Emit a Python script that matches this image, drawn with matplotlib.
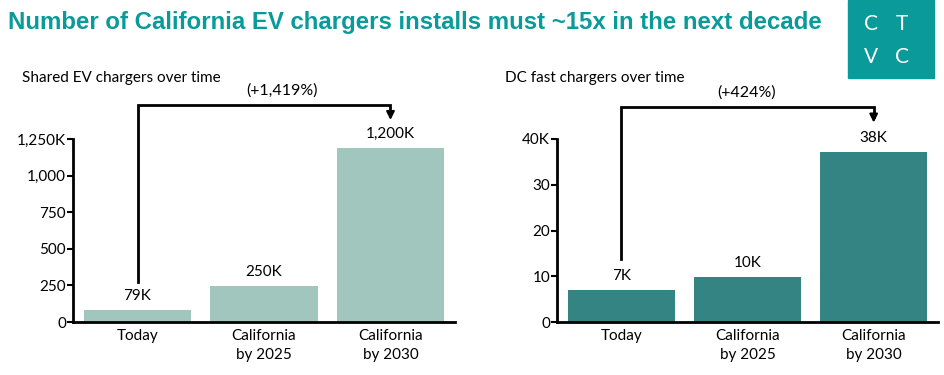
import matplotlib
matplotlib.use("Agg")
import matplotlib.pyplot as plt
from matplotlib.patches import Rectangle

plt.rcParams['font.family'] = ['Lato', 'DejaVu Sans']

categories = ["Today", "California\nby 2025", "California\nby 2030"]

shared_values = [79, 246, 1190]
shared_labels = ["79K", "250K", "1,200K"]
shared_ticks = [0, 250, 500, 750, 1000, 1250]
shared_ticklabels = ["0", "250", "500", "750", "1,000", "1,250K"]
shared_growth = "(+1,419%)"

dc_values = [7, 9.8, 37.2]
dc_labels = ["7K", "10K", "38K"]
dc_ticks = [0, 10, 20, 30, 40]
dc_ticklabels = ["0", "10", "20", "30", "40K"]
dc_growth = "(+424%)"

TEAL = "#0a9a9a"

fig = plt.figure(figsize=(9.45, 3.75), dpi=100)
fig.patch.set_facecolor("white")

fig.text(8 / 945, 1 - 22 / 375, "Number of California EV chargers installs must ~15x in the next decade",
         family=['Liberation Sans', 'DejaVu Sans'], fontsize=17.3, fontweight='bold',
         color=TEAL, va='center', ha='left')

# logo box
fig.patches.append(Rectangle((848 / 945, 1 - 78 / 375), 86 / 945, 78 / 375,
                             transform=fig.transFigure, color=TEAL, zorder=0))
for (x, y, s) in [(871, 24, "C"), (902, 24, "T"), (871, 57, "V"), (902, 57, "C")]:
    fig.text(x / 945, 1 - y / 375, s, color="white", fontsize=15,
             ha='center', va='center', family=['Lato', 'DejaVu Sans'])


def draw_panel(rect, values, labels, ticks, ticklabels, ymax, color, title, growth,
               title_x, bracket_bottom, bracket_top, arrow_tip, growth_x, growth_y):
    ax = fig.add_axes(rect)
    x = range(len(values))
    ax.bar(x, values, width=0.85, color=color, zorder=2)
    ax.set_xlim(-0.51, 2.51)
    ax.set_ylim(0, ymax)
    ax.set_xticks(list(x))
    ax.set_xticklabels(categories, fontsize=11, linespacing=1.45)
    ax.set_yticks(ticks)
    ax.set_yticklabels(ticklabels, fontsize=11)
    for s in ['top', 'right']:
        ax.spines[s].set_visible(False)
    for s in ['left', 'bottom']:
        ax.spines[s].set_linewidth(2)
    ax.tick_params(axis='y', length=4, width=1.5, pad=1)
    ax.tick_params(axis='x', length=0, pad=5)
    for xi, v, lab in zip(x, values, labels):
        ax.annotate(lab, (xi, v), xytext=(0, 5), textcoords='offset points',
                    ha='center', va='bottom', fontsize=11)
    # growth bracket
    ax.plot([0, 0, 2, 2], [bracket_bottom, bracket_top, bracket_top, arrow_tip + ymax * 0.03],
            color='black', lw=2, clip_on=False, solid_joinstyle='miter')
    ax.annotate("", xy=(2, arrow_tip), xytext=(2, arrow_tip + ymax * 0.035),
                arrowprops=dict(arrowstyle='-|>', color='black', lw=1.5,
                                mutation_scale=12, shrinkA=0, shrinkB=0),
                annotation_clip=False)
    ax.text(growth_x, growth_y, growth, ha='center', va='center', fontsize=11.5,
            clip_on=False)
    fig.text(title_x, 1 - 78 / 375, title, fontsize=11, ha='left', va='center')
    return ax


draw_panel([73 / 945, 53 / 375, 382 / 945, 183 / 375], shared_values, shared_labels,
           shared_ticks, shared_ticklabels, 1250, "#a0c6be", "Shared EV chargers over time",
           shared_growth, 22 / 945, 273, 1482, 1380, 1.14, 1580)

draw_panel([557 / 945, 53 / 375, 381 / 945, 183 / 375], dc_values, dc_labels,
           dc_ticks, dc_ticklabels, 40, "#338483", "DC fast chargers over time",
           dc_growth, 505 / 945, 13.8, 46.9, 43.6, 0.99, 50.1)

fig.savefig("out.png", dpi=100)
